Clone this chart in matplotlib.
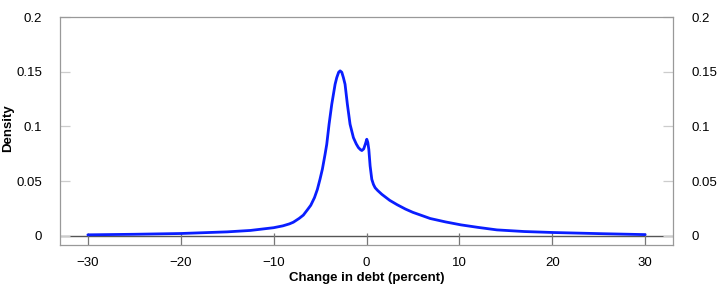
import matplotlib
matplotlib.use("Agg")
import matplotlib.pyplot as plt

plt.rcParams['font.family'] = ['Liberation Sans', 'DejaVu Sans']

# density of the change in debt
change = [-30, -25, -20, -15, -12.5, -11.5, -10, -9, -8.3, -7.88, -7.25, -6.8,
          -6.35, -6.0, -5.6, -5.29, -5.0, -4.75, -4.46, -4.28, -4.03, -3.74,
          -3.38, -3.2, -3.0, -2.84, -2.66, -2.49, -2.31, -2.06, -1.77, -1.41,
          -1.1, -0.87, -0.65, -0.5, -0.3, -0.12, 0.03, 0.14, 0.25, 0.39, 0.57,
          0.75, 0.93, 1.2, 1.65, 2.5, 3.3, 4.2, 5.0, 6.0, 6.86, 8.5, 10.16,
          12.0, 14.04, 17.0, 20.15, 25.5, 30]
density = [0.0010, 0.0015, 0.0022, 0.0037, 0.0050, 0.0060, 0.0075, 0.0092,
           0.0110, 0.0125, 0.0160, 0.0190, 0.0240, 0.0280, 0.0350, 0.0425,
           0.0520, 0.0610, 0.0746, 0.0837, 0.1020, 0.1203, 0.1386, 0.1447,
           0.1495, 0.1508, 0.1495, 0.1447, 0.1386, 0.1203, 0.1020, 0.0898,
           0.0840, 0.0807, 0.0788, 0.0780, 0.0795, 0.0840, 0.0883, 0.0855,
           0.0790, 0.0639, 0.0517, 0.0470, 0.0440, 0.0415, 0.0380, 0.0325,
           0.0285, 0.0245, 0.0215, 0.0185, 0.0159, 0.0128, 0.0101, 0.0078,
           0.0055, 0.0040, 0.0031, 0.0020, 0.0012]

xticks = [-30, -20, -10, 0, 10, 20, 30]
yticks = [0, 0.05, 0.1, 0.15, 0.2]
ytick_labels = ['0', '0.05', '0.1', '0.15', '0.2']

fig = plt.figure(figsize=(7.22, 2.95), dpi=100)
ax = fig.add_axes([60/722, 1 - 245/295, 613/722, 228/295])

ax.plot(change, density, color='#0a1eff', lw=2.0, solid_capstyle='round',
        solid_joinstyle='round')
ax.axhline(0, color='#555555', lw=1.0, zorder=1)

ax.set_xlim(-33, 33)
ax.set_ylim(-0.0083, 0.2)
ax.set_xticks(xticks)
ax.set_yticks(yticks)
ax.set_yticklabels(ytick_labels)

for s in ax.spines.values():
    s.set_color('#999999')
    s.set_linewidth(0.9)

ax.tick_params(axis='x', direction='in', length=8.5, width=0.9, color='#777777',
               labelsize=9.5, pad=9)
ax.tick_params(axis='y', direction='in', length=7, width=0.9, color='#cccccc',
               labelsize=9.5, left=True, right=True, labelleft=True,
               labelright=True, pad=13)

ax.set_xlabel('Change in debt (percent)', fontsize=9.5, fontweight='bold', labelpad=2)
fig.text(8/722, 1 - 128/295, 'Density', rotation=90, fontsize=9.5,
         fontweight='bold', ha='center', va='center')

fig.savefig('out.png', dpi=100)
